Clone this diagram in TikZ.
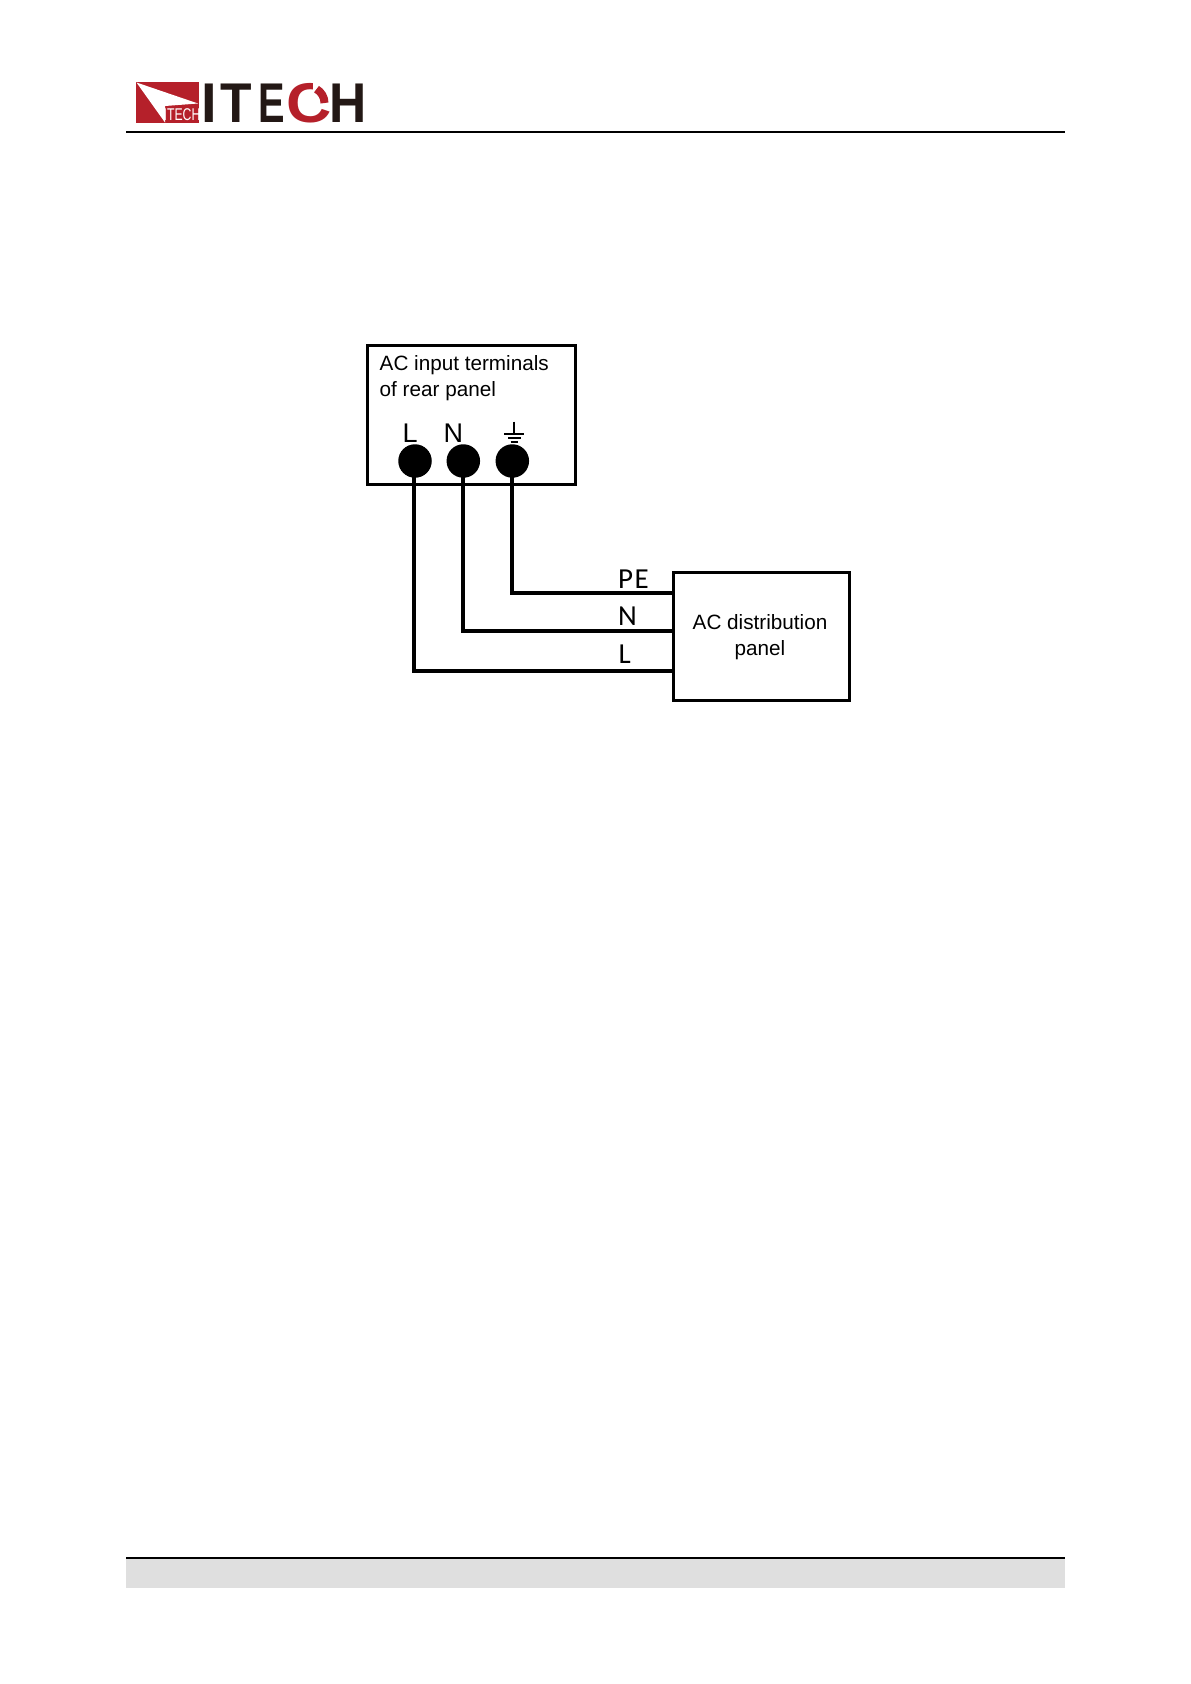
\documentclass[tikz,border=0pt]{standalone}
\usepackage{fontspec}
\setmainfont{Liberation Sans}
\newfontfamily\calfont{Carlito}
\definecolor{itred}{HTML}{B5202A}
\definecolor{itblack}{HTML}{231815}
\definecolor{footgray}{HTML}{DFDFDF}
\tikzset{
  boxnode/.style={draw=black,line width=3pt,rectangle,inner sep=0pt},
  wire/.style={draw=black,line width=4.2pt,line join=miter},
  terminal/.style={circle,fill=black,draw=none,minimum size=33.5pt,inner sep=0pt},
  arial/.style={inner sep=0pt,font=\fontsize{20.7}{26}\selectfont,text=black},
  terminalabel/.style={inner sep=0pt,font=\fontsize{27}{30}\selectfont,text=black,anchor=base west},
  wirelabel/.style={inner sep=0pt,font=\calfont\fontsize{29}{32}\selectfont,text=black,anchor=base west},
  logoletter/.style={inner sep=0pt,anchor=base west,font=\bfseries\fontsize{56}{56}\selectfont,text=itblack},
  rule/.style={draw=black,line width=2.4pt},
  earth/.style={draw=black,line width=2pt}
}
\begin{document}
\begin{tikzpicture}[x=1pt,y=-1pt]
\useasboundingbox (0,0) rectangle (1191,1684);
% header logo
\fill[itred] (136,82) rectangle (198.5,122.5);
\fill[white] (136.5,82.5) -- (198,103.5) -- (165,106) -- (165,122.5) -- cycle;
\node[inner sep=0pt,anchor=base,text=white,font=\fontsize{17}{17}\selectfont] (logosmall) at (182,120.5) {\scalebox{0.72}[1]{ITECH}};
\node[logoletter] (li) at (201.5,122.3) {I};
\node[logoletter] (lt) at (220,122.3) {\scalebox{0.92}[1]{T}};
\node[logoletter] (le) at (258,122.3) {\scalebox{0.71}[1]{E}};
\node[logoletter,text=itred] (lc) at (286,122.3) {\scalebox{1.12}[1]{C}};
\fill[white] (313,80) rectangle (332,101);
\draw[itred,line width=8pt] (324.5,103) arc[start angle=0,end angle=-60,radius=16];
\node[logoletter] (lh) at (328.8,122.3) {\scalebox{0.92}[1]{H}};
% header and footer
\coordinate (hl) at (126,132); \coordinate (hr) at (1065,132);
\draw[rule] (hl) -- (hr);
\fill[footgray] (126,1558) rectangle (1065,1588);
\coordinate (fl) at (126,1558); \coordinate (fr) at (1065,1558);
\draw[rule] (fl) -- (fr);
% boxes
\node[boxnode,minimum width=208pt,minimum height=139.5pt] (rear) at (471.5,415.2) {};
\node[boxnode,minimum width=176pt,minimum height=128pt] (dist) at (761.2,636.2) {};
% terminals
\node[terminal] (tl) at (415,461) {};
\node[terminal] (tn) at (463.3,461) {};
\node[terminal] (tg) at (512.3,461) {};
% wires
\draw[wire] (tl.center) ++(-0.8,0) |- (dist.west |- 0,670.6);
\draw[wire] (tn.center) |- (dist.west |- 0,631);
\draw[wire] (tg.center) ++(-0.6,0) |- (dist.west |- 0,592.7);
% texts
\node[arial,anchor=base west] (t1) at (379.5,370) {AC input terminals};
\node[arial,anchor=base west] (t2) at (379.5,396) {of rear panel};
\node[arial,anchor=base] (t3) at (760,629.5) {AC distribution};
\node[arial,anchor=base] (t4) at (760,655) {panel};
\node[terminalabel] (ll) at (402.5,442) {L};
\node[terminalabel] (ln) at (443.5,442) {N};
\node[wirelabel] (pe) at (618,588) {P\kern1.5pt E};
\node[wirelabel] (wn) at (618,625.5) {N};
\node[wirelabel] (wl) at (618.5,663) {L};
% earth symbol
\draw[earth] (514.3,421.5) -- (514.3,434);
\draw[earth] (504,434) -- (524.3,434);
\draw[earth] (508.3,438.3) -- (520.7,438.3);
\draw[earth] (510.7,442.3) -- (518.3,442.3);
\end{tikzpicture}
\end{document}
